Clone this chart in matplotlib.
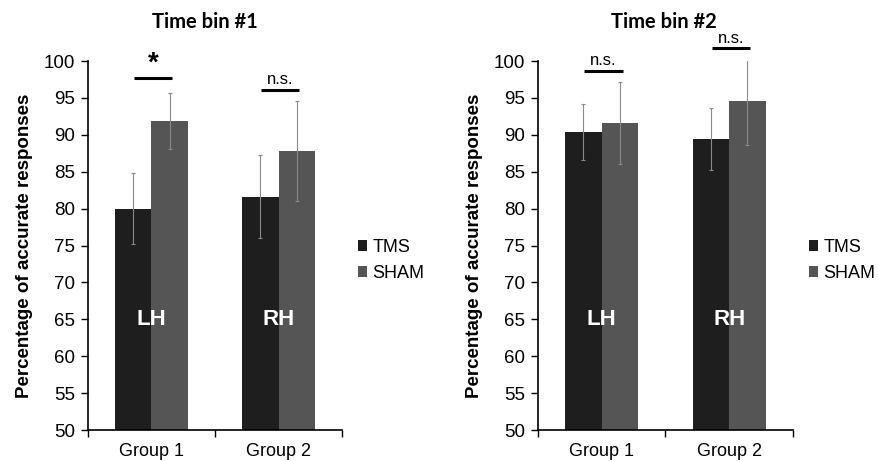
import matplotlib
matplotlib.use("Agg")
import matplotlib.pyplot as plt
import numpy as np

plt.rcParams['font.family'] = ['Liberation Sans', 'DejaVu Sans']

# --- data ---
groups = ["Group 1", "Group 2"]
hemis = ["LH", "RH"]
titles = ["Time bin #1", "Time bin #2"]

tms_mean = [[80.0, 81.6], [90.4, 89.5]]
tms_err = [[4.8, 5.6], [3.8, 4.2]]
sham_mean = [[91.9, 87.8], [91.6, 94.6]]
sham_err = [[3.8, 6.8], [5.5, 6.0]]

sig_labels = [["*", "n.s."], ["n.s.", "n.s."]]
sig_levels = [[97.7, 96.1], [98.7, 101.7]]

# --- figure ---
fig = plt.figure(figsize=(8.79, 4.61), dpi=100, facecolor='white')
ax_pos = [[0.1001, 0.0672, 0.289, 0.8004], [0.612, 0.0672, 0.290, 0.8004]]
title_x = [205 / 879, 664 / 879]

c_tms = '#1e1e1e'
c_sham = '#555555'
w = 0.287
x = np.arange(len(groups)) + 0.5

for p in range(2):
    ax = fig.add_axes(ax_pos[p])
    ax.bar(x - w / 2, tms_mean[p], w, color=c_tms, zorder=2, label='TMS')
    ax.bar(x + w / 2, sham_mean[p], w, color=c_sham, zorder=2, label='SHAM')
    ax.errorbar(x - w / 2, tms_mean[p], yerr=tms_err[p], fmt='none', ecolor='#8a8a8a',
                elinewidth=0.8, capsize=1.5, capthick=0.8, zorder=3)
    ax.errorbar(x + w / 2, sham_mean[p], yerr=sham_err[p], fmt='none', ecolor='#8a8a8a',
                elinewidth=0.8, capsize=1.5, capthick=0.8, zorder=3)

    ax.set_xlim(0, 2)
    ax.set_ylim(50, 100)
    ax.set_yticks(np.arange(50, 101, 5))
    ax.set_xticks([0, 1, 2])
    ax.set_xticklabels([])
    ax.set_xticks(x, minor=True)
    ax.set_xticklabels(groups, minor=True, fontsize=13)
    ax.tick_params(axis='x', which='minor', length=0, pad=9)
    ax.tick_params(axis='x', which='major', length=5, width=1, direction='out')
    ax.tick_params(axis='y', length=5, width=1, direction='out', labelsize=13.5, pad=4)
    for s in ['top', 'right']:
        ax.spines[s].set_visible(False)
    for s in ['left', 'bottom']:
        ax.spines[s].set_linewidth(1.2)

    # hemisphere labels
    for i, h in enumerate(hemis):
        ax.text(x[i], 65, h, color='white', fontsize=16, fontweight='bold',
                ha='center', va='center', zorder=4)

    # significance bars
    for i in range(len(groups)):
        lvl = sig_levels[p][i]
        ax.plot([x[i] - 0.135, x[i] + 0.165], [lvl, lvl], color='black', lw=2.2,
                clip_on=False, solid_capstyle='butt', zorder=4)
        lab = sig_labels[p][i]
        if lab == "*":
            ax.text(x[i] + 0.015, lvl + 0.2, lab, fontsize=20, fontweight='bold',
                    ha='center', va='bottom', clip_on=False)
        else:
            ax.text(x[i] + 0.015, lvl + 0.4, lab, fontsize=12,
                    ha='center', va='bottom', clip_on=False)

    ax.set_ylabel("Percentage of accurate responses", fontsize=13.5, fontweight='bold',
                  labelpad=8)

    fig.text(title_x[p], 0.952, titles[p], fontsize=14.5, fontweight='bold',
             ha='center', va='center', family=['Lato', 'DejaVu Sans'])

    ax.legend(loc='center left', bbox_to_anchor=(1.035, 0.46), frameon=False,
              fontsize=13, handlelength=0.5, handleheight=0.5, handletextpad=0.3,
              labelspacing=0.5, borderaxespad=0)

fig.savefig("out.png", dpi=100, facecolor='white')
